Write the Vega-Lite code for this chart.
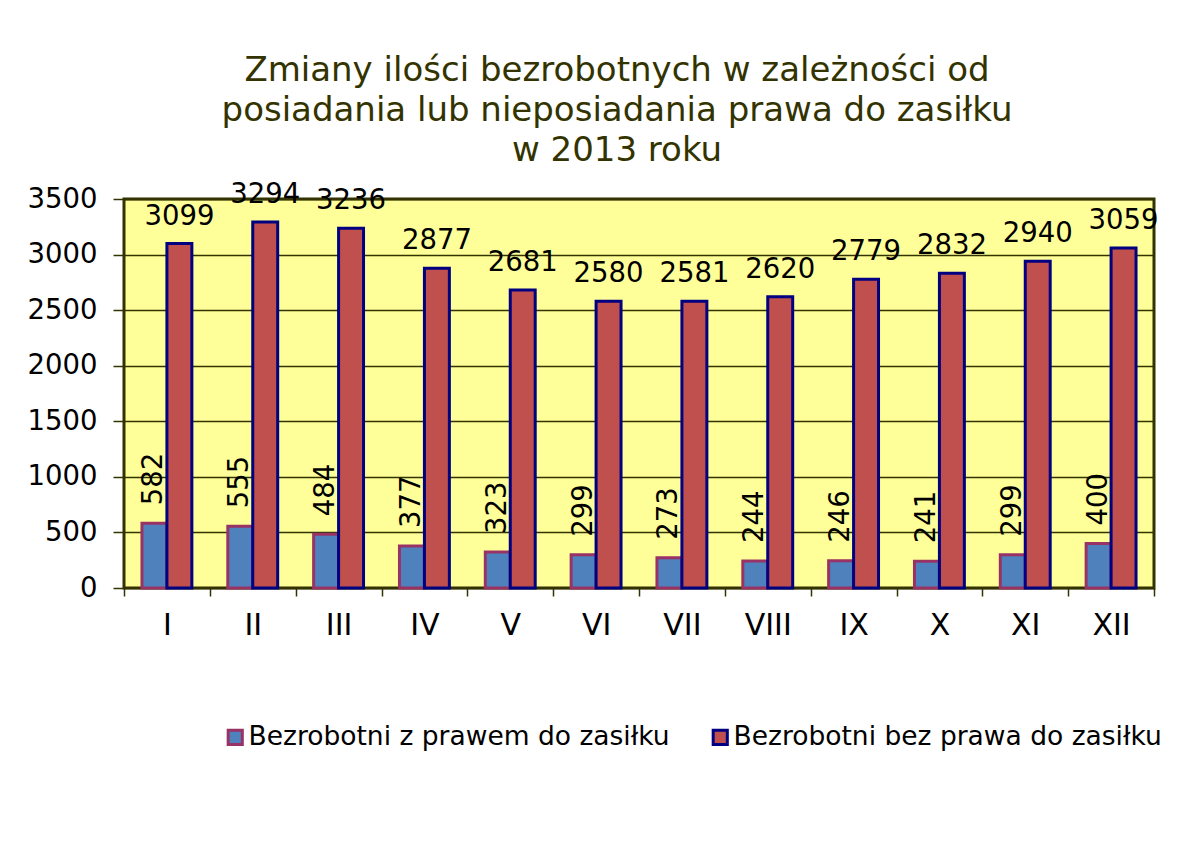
{
  "$schema": "https://vega.github.io/schema/vega-lite/v6.json",
  "width": 1030,
  "height": 389,
  "autosize": {"type": "none"},
  "padding": {"left": 124, "top": 199, "right": 24, "bottom": 273},
  "background": "white",
  "title": {
    "text": ["Zmiany ilości bezrobotnych w zależności od", "posiadania lub nieposiadania prawa  do zasiłku", "w 2013 roku"],
    "fontSize": 34,
    "fontWeight": "normal",
    "lineHeight": 40,
    "color": "#333300",
    "anchor": "middle",
    "dx": -22,
    "offset": 13
  },
  "data": {
    "values": [
      {"month": "I", "series": "Bezrobotni z prawem do zasiłku", "value": 582},
      {"month": "II", "series": "Bezrobotni z prawem do zasiłku", "value": 555},
      {"month": "III", "series": "Bezrobotni z prawem do zasiłku", "value": 484},
      {"month": "IV", "series": "Bezrobotni z prawem do zasiłku", "value": 377},
      {"month": "V", "series": "Bezrobotni z prawem do zasiłku", "value": 323},
      {"month": "VI", "series": "Bezrobotni z prawem do zasiłku", "value": 299},
      {"month": "VII", "series": "Bezrobotni z prawem do zasiłku", "value": 273},
      {"month": "VIII", "series": "Bezrobotni z prawem do zasiłku", "value": 244},
      {"month": "IX", "series": "Bezrobotni z prawem do zasiłku", "value": 246},
      {"month": "X", "series": "Bezrobotni z prawem do zasiłku", "value": 241},
      {"month": "XI", "series": "Bezrobotni z prawem do zasiłku", "value": 299},
      {"month": "XII", "series": "Bezrobotni z prawem do zasiłku", "value": 400},
      {"month": "I", "series": "Bezrobotni bez prawa  do zasiłku", "value": 3099},
      {"month": "II", "series": "Bezrobotni bez prawa  do zasiłku", "value": 3294},
      {"month": "III", "series": "Bezrobotni bez prawa  do zasiłku", "value": 3236},
      {"month": "IV", "series": "Bezrobotni bez prawa  do zasiłku", "value": 2877},
      {"month": "V", "series": "Bezrobotni bez prawa  do zasiłku", "value": 2681},
      {"month": "VI", "series": "Bezrobotni bez prawa  do zasiłku", "value": 2580},
      {"month": "VII", "series": "Bezrobotni bez prawa  do zasiłku", "value": 2581},
      {"month": "VIII", "series": "Bezrobotni bez prawa  do zasiłku", "value": 2620},
      {"month": "IX", "series": "Bezrobotni bez prawa  do zasiłku", "value": 2779},
      {"month": "X", "series": "Bezrobotni bez prawa  do zasiłku", "value": 2832},
      {"month": "XI", "series": "Bezrobotni bez prawa  do zasiłku", "value": 2940},
      {"month": "XII", "series": "Bezrobotni bez prawa  do zasiłku", "value": 3059}
    ]
  },
  "encoding": {
    "x": {
      "field": "month",
      "type": "ordinal",
      "sort": null,
      "scale": {"paddingInner": 0, "paddingOuter": 0},
      "axis": {
        "title": null,
        "labelAngle": 0,
        "labelFontSize": 30,
        "labelColor": "black",
        "labelPadding": 14,
        "tickBand": "extent",
        "tickSize": 8,
        "tickColor": "#333300",
        "tickWidth": 1.5,
        "domain": false
      }
    },
    "xOffset": {
      "field": "series",
      "sort": ["Bezrobotni z prawem do zasiłku", "Bezrobotni bez prawa  do zasiłku"],
      "scale": {"paddingInner": 0, "paddingOuter": 0.72}
    },
    "y": {
      "field": "value",
      "type": "quantitative",
      "scale": {"domain": [0, 3500], "nice": false},
      "axis": {
        "title": null,
        "format": "d",
        "values": [0, 500, 1000, 1500, 2000, 2500, 3000, 3500],
        "labelFontSize": 27.5,
        "labelColor": "black",
        "labelPadding": 16,
        "tickSize": 11,
        "tickColor": "#333300",
        "tickWidth": 1.5,
        "grid": true,
        "gridColor": "#333300",
        "gridWidth": 1.5,
        "domain": false
      }
    }
  },
  "layer": [
    {
      "mark": {"type": "bar", "strokeWidth": 3},
      "encoding": {
        "fill": {
          "field": "series",
          "type": "nominal",
          "scale": {"domain": ["Bezrobotni z prawem do zasiłku", "Bezrobotni bez prawa  do zasiłku"], "range": ["#4F81BD", "#C0504D"]},
          "legend": {
            "orient": "none",
            "legendX": 98,
            "legendY": 525,
            "direction": "horizontal",
            "title": null,
            "symbolType": "square",
            "symbolSize": 200,
            "symbolStrokeWidth": 3,
            "symbolOpacity": 1,
            "labelFontSize": 26.5,
            "labelColor": "black",
            "labelOffset": 0,
            "labelLimit": 0,
            "columnPadding": 37
          }
        },
        "stroke": {
          "field": "series",
          "type": "nominal",
          "scale": {"domain": ["Bezrobotni z prawem do zasiłku", "Bezrobotni bez prawa  do zasiłku"], "range": ["#993366", "#000080"]},
          "legend": {
            "orient": "none",
            "legendX": 98,
            "legendY": 525,
            "direction": "horizontal",
            "title": null,
            "symbolType": "square",
            "symbolSize": 200,
            "symbolStrokeWidth": 3,
            "labelFontSize": 26.5,
            "labelColor": "black",
            "labelOffset": 0,
            "labelLimit": 0,
            "columnPadding": 37
          }
        }
      }
    },
    {
      "transform": [{"filter": "datum.series === 'Bezrobotni bez prawa  do zasiłku'"}],
      "mark": {"type": "text", "fontSize": 27.5, "color": "black", "align": "center", "baseline": "alphabetic", "dy": -19},
      "encoding": {"text": {"field": "value", "type": "quantitative", "format": "d"}}
    },
    {
      "transform": [{"filter": "datum.series === 'Bezrobotni z prawem do zasiłku'"}],
      "mark": {"type": "text", "fontSize": 27.5, "color": "black", "angle": -90, "align": "left", "baseline": "middle", "dx": 18},
      "encoding": {"text": {"field": "value", "type": "quantitative", "format": "d"}}
    }
  ],
  "config": {
    "font": "DejaVu Sans",
    "view": {"fill": "#FFFF99", "stroke": "#333300", "strokeWidth": 3}
  }
}
